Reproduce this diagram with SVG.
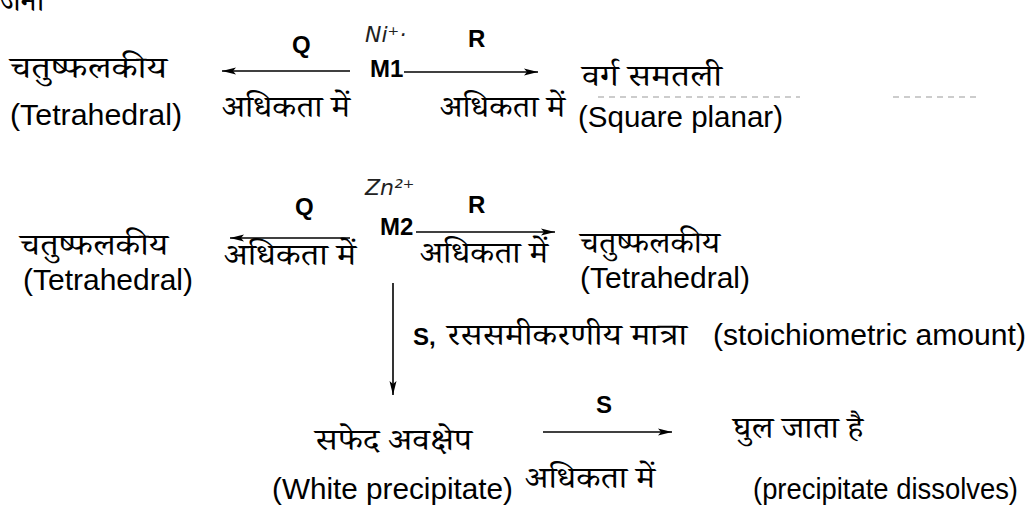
<svg xmlns="http://www.w3.org/2000/svg" width="1031" height="513" viewBox="0 0 1031 513">
<defs>
<marker id="ah" viewBox="0 0 14 8" refX="14" refY="4" markerWidth="14" markerHeight="8" markerUnits="userSpaceOnUse" orient="auto-start-reverse"><path d="M0,0.5 L14,4 L0,7.5 L3,4 z" fill="#000"/></marker>
</defs>
<style>
.hi{font-family:"Noto Serif Devanagari","Noto Sans Devanagari","Lohit Devanagari","FreeSerif",serif;font-size:31px;fill:#000}
.en{font-family:"Liberation Sans",Arial,sans-serif;font-size:29px;fill:#000}
.lb{font-family:"Liberation Sans",Arial,sans-serif;font-weight:bold;font-size:24px;fill:#000}
.hw{font-family:"DejaVu Sans",sans-serif;font-style:italic;font-size:22px;fill:#222}
.ln{stroke:#000;stroke-width:1.6;fill:none}
.dash{stroke:#999;stroke-width:1;stroke-dasharray:6 5;fill:none}
</style>
<rect width="1031" height="513" fill="#fff"/>
<g id="fragment"><text class="hi" x="0" y="11">जना</text></g>

<g id="row1-left"><text class="hi" x="10" y="78" textLength="157" lengthAdjust="spacingAndGlyphs">चतुष्फलकीय</text><text class="en" x="10" y="125" textLength="172" lengthAdjust="spacingAndGlyphs">(Tetrahedral)</text></g>
<g id="row1-M1"><text class="lb" x="370" y="77">M1</text><text class="hw" x="365" y="42">Ni⁺·</text></g>
<g id="row1-right"><text class="hi" x="582" y="86" textLength="140" lengthAdjust="spacingAndGlyphs">वर्ग समतली</text><text class="en" x="578" y="127" textLength="205" lengthAdjust="spacingAndGlyphs">(Square planar)</text></g>

<g id="row2-left"><text class="hi" x="20" y="255" textLength="148" lengthAdjust="spacingAndGlyphs">चतुष्फलकीय</text><text class="en" x="23" y="290" textLength="170" lengthAdjust="spacingAndGlyphs">(Tetrahedral)</text></g>
<g id="row2-M2"><text class="lb" x="380" y="235">M2</text><text class="hw" x="365" y="195">Zn²⁺</text></g>
<g id="row2-right"><text class="hi" x="580" y="253" textLength="140" lengthAdjust="spacingAndGlyphs">चतुष्फलकीय</text><text class="en" x="580" y="288" textLength="170" lengthAdjust="spacingAndGlyphs">(Tetrahedral)</text></g>

<g id="white-ppt"><text class="hi" x="315" y="450" textLength="157" lengthAdjust="spacingAndGlyphs">सफेद अवक्षेप</text><text class="en" x="272" y="499" textLength="241" lengthAdjust="spacingAndGlyphs">(White precipitate)</text></g>
<g id="dissolves"><text class="hi" x="733" y="438" textLength="130" lengthAdjust="spacingAndGlyphs">घुल जाता है</text><text class="en" x="753" y="499" textLength="265" lengthAdjust="spacingAndGlyphs">(precipitate dissolves)</text></g>

<g id="connectors">
<line class="ln" x1="350" y1="71" x2="222" y2="71" marker-end="url(#ah)"/>
<line class="ln" x1="404" y1="72" x2="538" y2="72" marker-end="url(#ah)"/>
<line class="ln" x1="350" y1="238" x2="230" y2="238" marker-end="url(#ah)"/>
<line class="ln" x1="416" y1="232" x2="555" y2="232" marker-end="url(#ah)"/>
<line class="ln" x1="393" y1="283" x2="393" y2="395" marker-end="url(#ah)"/>
<line class="ln" x1="543" y1="432" x2="672" y2="432" marker-end="url(#ah)"/>
<path class="dash" d="M598,97 H800 M893,97 H977"/>
<text class="lb" x="292" y="53">Q</text>
<text class="lb" x="468" y="47">R</text>
<text class="hi" x="222" y="117" textLength="128" lengthAdjust="spacingAndGlyphs">अधिकता में</text>
<text class="hi" x="440" y="117" textLength="125" lengthAdjust="spacingAndGlyphs">अधिकता में</text>
<text class="lb" x="295" y="215">Q</text>
<text class="lb" x="468" y="213">R</text>
<text class="hi" x="224" y="265" textLength="132" lengthAdjust="spacingAndGlyphs">अधिकता में</text>
<text class="hi" x="420" y="263" textLength="128" lengthAdjust="spacingAndGlyphs">अधिकता में</text>
<text class="lb" x="413" y="345">S,</text>
<text class="hi" x="447" y="345" textLength="240" lengthAdjust="spacingAndGlyphs">रससमीकरणीय मात्रा</text>
<text class="en" x="713" y="345" textLength="313" lengthAdjust="spacingAndGlyphs">(stoichiometric amount)</text>
<text class="lb" x="596" y="413">S</text>
<text class="hi" x="525" y="488" textLength="130" lengthAdjust="spacingAndGlyphs">अधिकता में</text>
</g>
</svg>
